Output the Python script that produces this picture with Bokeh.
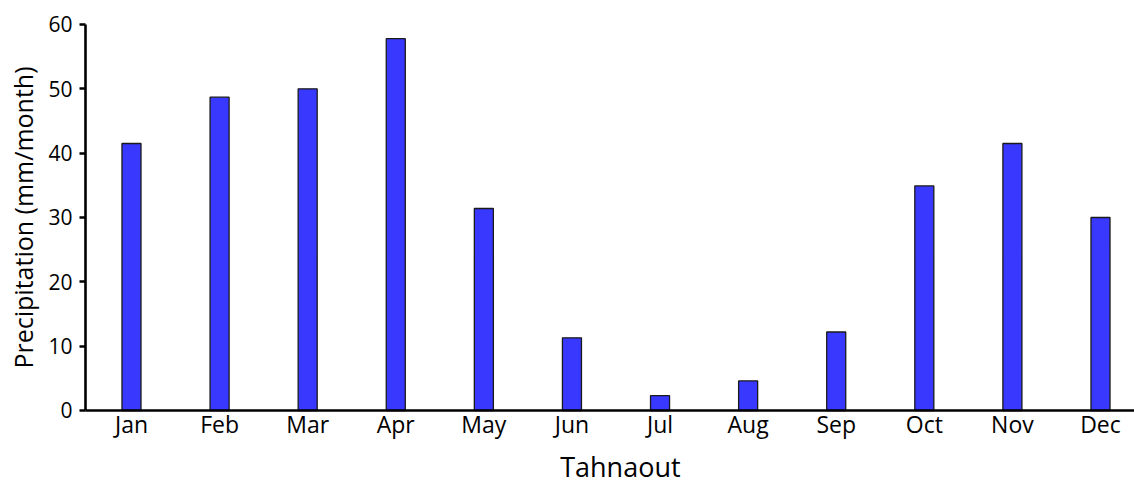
import math
from bokeh.plotting import figure
from bokeh.models import Range1d, FixedTicker, ColumnDataSource, Label
from bokeh.embed import file_html
from bokeh.resources import INLINE

months = ["Jan", "Feb", "Mar", "Apr", "May", "Jun", "Jul", "Aug", "Sep", "Oct", "Nov", "Dec"]
precip = [41.5, 48.7, 50.0, 57.8, 31.4, 11.3, 2.3, 4.6, 12.2, 34.9, 41.5, 30.0]
y_ticks = [0, 10, 20, 30, 40, 50, 60]
station = "Tahnaout"
y_title = "Precipitation (mm/month)"

xs = list(range(len(months)))
src = ColumnDataSource(dict(x=xs, top=precip, month=months))

FONT = "Open Sans"

# The frame fills the whole canvas; both axes are pinned at fixed data
# locations so that the titles drawn as labels are never clipped.
X0 = -0.522   # where the y axis sits
p = figure(width=1134, height=484, output_backend="svg", toolbar_location=None,
           x_range=Range1d(-1.487, 11.386), y_range=Range1d(-11.503, 63.73),
           min_border_left=0, min_border_right=0, min_border_top=0, min_border_bottom=0)

p.vbar(x="x", top="top", width=0.216, source=src, fill_color="#3838ff",
       line_color="#1a1a1a", line_width=1.3)

p.grid.visible = False
p.outline_line_color = None
p.background_fill_color = "white"
p.border_fill_color = "white"

xa = p.xaxis[0]
xa.fixed_location = 0
xa.bounds = (X0, 11.386)
xa.ticker = FixedTicker(ticks=xs)
xa.major_label_overrides = {i: m for i, m in zip(xs, months)}
xa.major_tick_out = 0
xa.major_tick_in = 0
xa.minor_tick_out = 0
xa.minor_tick_in = 0
xa.axis_line_width = 2.6
xa.axis_line_color = "black"
xa.major_label_text_font = FONT
xa.major_label_text_font_size = "23px"
xa.major_label_text_color = "black"
xa.major_label_standoff = -2

ya = p.yaxis[0]
ya.fixed_location = X0
ya.bounds = (0, 60)
ya.ticker = FixedTicker(ticks=y_ticks)
ya.major_tick_out = 6
ya.major_tick_in = 0
ya.minor_tick_out = 0
ya.minor_tick_in = 0
ya.major_tick_line_width = 2.6
ya.axis_line_width = 2.6
ya.axis_line_color = "black"
ya.major_tick_line_color = "black"
ya.major_label_text_font = FONT
ya.major_label_text_font_size = "21px"
ya.major_label_text_color = "black"
ya.major_label_standoff = 7

p.add_layout(Label(x=5.55, y=-8.7, text=station, text_align="center",
                   text_baseline="middle", text_font=FONT,
                   text_font_size="27px", text_color="black"))

p.add_layout(Label(x=-1.237, y=30.0, text=y_title, angle=math.pi / 2,
                   text_align="center", text_baseline="middle", text_font=FONT,
                   text_font_size="25px", text_color="black"))

open("out.html", "w").write(file_html(p, INLINE))
